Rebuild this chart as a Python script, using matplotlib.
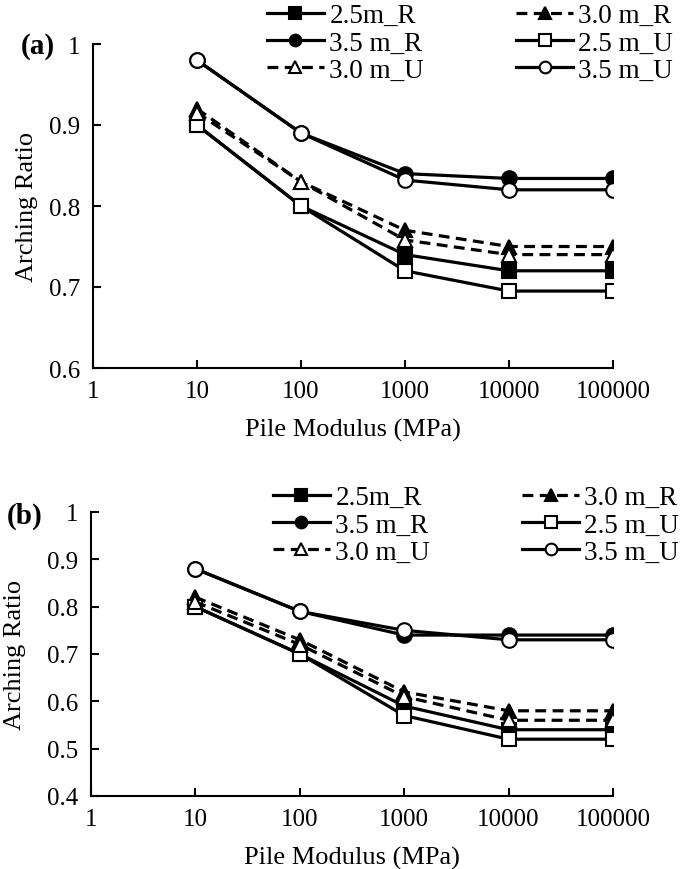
import matplotlib
matplotlib.use("Agg")
import matplotlib.pyplot as plt
from matplotlib.ticker import FixedLocator, NullLocator, FixedFormatter

plt.rcParams['font.family'] = ['Liberation Serif', 'DejaVu Serif']

modulus = [10, 100, 1000, 10000, 100000]
xticks = [1, 10, 100, 1000, 10000, 100000]
xtick_labels = ["1", "10", "100", "1000", "10000", "100000"]

labels = ["2.5m_R", "3.0 m_R", "3.5 m_R", "2.5 m_U", "3.0 m_U", "3.5 m_U"]

# Panel (a)
a_25R = [0.90, 0.80, 0.74, 0.72, 0.72]
a_30R = [0.92, 0.83, 0.77, 0.75, 0.75]
a_35R = [0.98, 0.89, 0.84, 0.834, 0.834]
a_25U = [0.90, 0.80, 0.72, 0.695, 0.695]
a_30U = [0.915, 0.83, 0.758, 0.74, 0.74]
a_35U = [0.98, 0.89, 0.832, 0.82, 0.82]

# Panel (b)
b_25R = [0.80, 0.70, 0.59, 0.54, 0.54]
b_30R = [0.82, 0.73, 0.62, 0.58, 0.58]
b_35R = [0.88, 0.79, 0.74, 0.74, 0.74]
b_25U = [0.80, 0.70, 0.57, 0.52, 0.52]
b_30U = [0.81, 0.72, 0.61, 0.56, 0.56]
b_35U = [0.88, 0.79, 0.75, 0.73, 0.73]

yticks_a = [0.6, 0.7, 0.8, 0.9, 1.0]
yticks_b = [0.4, 0.5, 0.6, 0.7, 0.8, 0.9, 1.0]
ytick_labels_a = ["0.6", "0.7", "0.8", "0.9", "1"]
ytick_labels_b = ["0.4", "0.5", "0.6", "0.7", "0.8", "0.9", "1"]

W, H = 685, 870
fig = plt.figure(figsize=(W / 100, H / 100), dpi=100)

LW = 2.3
DASH = (0, (3.4, 2.0))
MS = 10.5

styles = [
    dict(marker='s', ls='-', mfc='black'),
    dict(marker='^', ls=DASH, mfc='black'),
    dict(marker='o', ls='-', mfc='black'),
    dict(marker='s', ls='-', mfc='white'),
    dict(marker='^', ls=DASH, mfc='white'),
    dict(marker='o', ls='-', mfc='white'),
]


def make_panel(rect, series, yticks, ytl, ylim, tag, tagpos, leg_anchor, ylab_x):
    ax = fig.add_axes(rect)
    handles = []
    for vals, st, lab in zip(series, styles, labels):
        h, = ax.plot(modulus, vals, color='black', lw=LW, ls=st['ls'],
                     marker=st['marker'], ms=MS, mfc=st['mfc'], mec='black',
                     mew=1.5, label=lab)
        handles.append(h)
    ax.set_xscale('log')
    ax.set_xlim(1, 100000)
    ax.set_ylim(*ylim)
    ax.xaxis.set_major_locator(FixedLocator(xticks))
    ax.xaxis.set_major_formatter(FixedFormatter(xtick_labels))
    ax.xaxis.set_minor_locator(NullLocator())
    ax.set_yticks(yticks)
    ax.set_yticklabels(ytl)
    for s in ['top', 'right']:
        ax.spines[s].set_visible(False)
    for s in ['left', 'bottom']:
        ax.spines[s].set_linewidth(1.5)
    ax.tick_params(axis='both', direction='in', length=6, width=1.5,
                   labelsize=18)
    ax.tick_params(axis='x', pad=9)
    ax.tick_params(axis='y', pad=9)
    ax.set_xlabel("Pile Modulus (MPa)", fontsize=19, labelpad=11)
    ax.set_ylabel("Arching Ratio", fontsize=19)
    ax.yaxis.set_label_coords(ylab_x, 0.5)
    fig.text(tagpos[0], tagpos[1], tag, fontsize=21, fontweight='bold',
             ha='left', va='center')
    order = [0, 2, 4, 1, 3, 5]
    fig.legend([handles[i] for i in order], [labels[i] for i in order],
               ncol=2, loc='upper left', bbox_to_anchor=leg_anchor,
               frameon=False, fontsize=19.5, handlelength=2.1,
               handletextpad=0.2, columnspacing=3.4, labelspacing=0.09,
               markerscale=0.8, borderpad=0, borderaxespad=0)
    return ax


make_panel([93 / W, 1 - 369 / H, 520 / W, 324 / H],
           [a_25R, a_30R, a_35R, a_25U, a_30U, a_35U],
           yticks_a, ytick_labels_a, (0.6, 1.0), "(a)",
           (21 / W, 1 - 47 / H), (267 / W, 1 - 4 / H), -0.106)

make_panel([91 / W, 1 - 797 / H, 522 / W, 284 / H],
           [b_25R, b_30R, b_35R, b_25U, b_30U, b_35U],
           yticks_b, ytick_labels_b, (0.4, 1.0), "(b)",
           (7 / W, 1 - 516 / H), (273 / W, 1 - 486 / H), -0.124)

fig.savefig("out.png", dpi=100)
